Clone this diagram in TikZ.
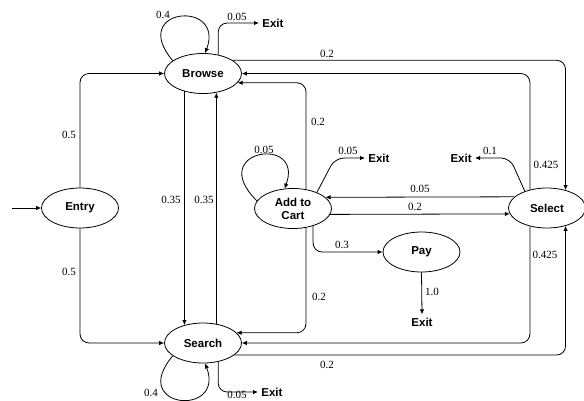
\documentclass[tikz,border=0pt]{standalone}
\usepackage{fontspec}
\setmainfont{Liberation Serif}
\setsansfont{Liberation Sans}
\usetikzlibrary{shapes.geometric,arrows.meta,calc}
\begin{document}
\begin{tikzpicture}[x=1pt,y=-1pt,
 state/.style={ellipse,draw,line width=0.8pt,minimum width=77pt,minimum height=40pt,inner sep=0pt,font=\sffamily\bfseries\fontsize{11.5}{13}\selectfont,align=center},
 exitnode/.style={inner sep=3pt,font=\sffamily\bfseries\fontsize{11.5}{13}\selectfont},
 lbl/.style={inner sep=0pt,font=\fontsize{11}{13}\selectfont},
 arr/.style={-{Latex[length=5pt,width=4.5pt]},line width=0.8pt,rounded corners=9pt},
 loop/.style={-{Latex[length=5pt,width=4.5pt]},line width=0.8pt},
 line width=0.8pt]
\useasboundingbox (0,0) rectangle (584,400);
% states
\node[state] (Browse) at (203,73.5) {Browse};
\node[state] (Entry) at (80,208) {Entry};
\node[state] (Search) at (203,343) {Search};
\node[state] (Add) at (293,208.5) {Add to\\Cart};
\node[state] (Select) at (547,208) {Select};
\node[state] (Pay) at (421.5,252) {Pay};
% exits
\node[exitnode,anchor=west] (bexit) at (259,23) {Exit};
\node[exitnode,anchor=west] (sexit) at (258,392) {Exit};
\node[exitnode,anchor=west] (aexit) at (365,158) {Exit};
\node[exitnode,anchor=east] (xexit) at (475,158) {Exit};
\node[exitnode] (pexit) at (422,322) {Exit};
\coordinate (start) at (12,208);
% edges
\draw[arr] (start) -- (Entry.west);
\draw[arr] (Entry.north) |- (Browse.west);
\draw[arr] (Entry.south) |- (Search.west);
\draw[loop] (Browse.157) .. controls +(-45,-53) and +(20,-54) .. (Browse.84);
\draw[loop] (Search.203) .. controls +(-45,53) and +(20,54) .. (Search.276);
\draw[loop] (Add.168) .. controls +(-52,-51) and +(20,-54) .. (Add.113);
\draw[arr] (Browse.51) |- (bexit.west);
\draw[arr] (Search.-51) |- (sexit.west);
\draw[arr] (Browse.224) -- (Search.136);
\draw[arr] (Search.55) -- (Browse.-55);
\draw[arr] (Browse.24) -| (Select.44);
\draw[arr] (Select.133) |- (Browse.east);
\draw[arr] (Add.56) |- (Browse.-15);
\draw[arr] (Add.-56) |- (Search.17);
\draw[arr] (Select.227) |- (Search.east);
\draw[arr] (Search.-21) -| (Select.-44);
\draw[arr] (Select.161) -- (Add.19);
\draw[arr] (Add.-9) -- (Select.189);
\draw[arr] (Add.-41) |- (Pay.west);
\draw[arr] (Pay.south) -- (pexit.north);
\draw[arr] (Add.34) -- ([xshift=-30pt]aexit.west) -- (aexit.west);
\draw[arr] (Select.143) -- ([xshift=35pt]xexit.east) -- (xexit.east);
% labels
\node[lbl] (l1) at (163,15) {0.4};
\node[lbl] (l2) at (237,17) {0.05};
\node[lbl] (l3) at (327,54) {0.2};
\node[lbl] (l4) at (69,135) {0.5};
\node[lbl] (l5) at (318,122) {0.2};
\node[lbl] (l6) at (546,165) {0.425};
\node[lbl] (l7) at (264,150) {0.05};
\node[lbl] (l8) at (348,151) {0.05};
\node[lbl] (l9) at (490,151) {0.1};
\node[lbl] (l10) at (171,200) {0.35};
\node[lbl] (l11) at (204,200) {0.35};
\node[lbl] (l12) at (420,189) {0.05};
\node[lbl] (l13) at (415,207) {0.2};
\node[lbl] (l14) at (342,245) {0.3};
\node[lbl] (l15) at (545,255) {0.425};
\node[lbl] (l16) at (432,292) {1.0};
\node[lbl] (l17) at (319,297) {0.2};
\node[lbl] (l18) at (69,272) {0.5};
\node[lbl] (l19) at (327,365) {0.2};
\node[lbl] (l20) at (151,393) {0.4};
\node[lbl] (l21) at (237,395) {0.05};
\end{tikzpicture}
\end{document}
